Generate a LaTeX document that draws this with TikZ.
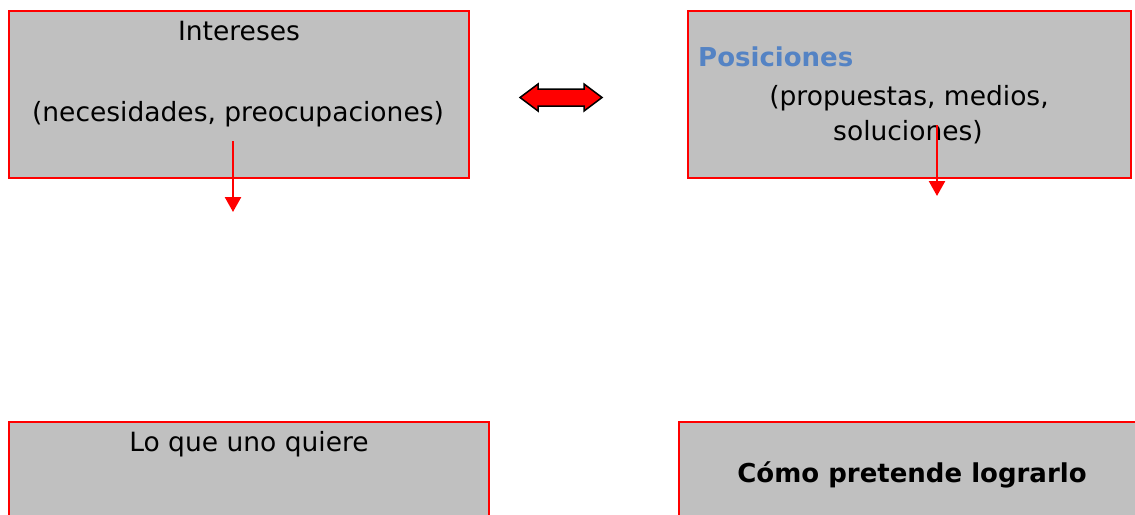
\documentclass[tikz,border=0pt]{standalone}
\usepackage{fontspec}
\setmainfont{DejaVu Sans}
\usetikzlibrary{arrows.meta}
\definecolor{gris}{RGB}{192,192,192}
\definecolor{azul}{RGB}{84,131,196}

\begin{document}
\begin{tikzpicture}
    [x=1pt,y=-1pt,every node/.style={font=\fontsize{26.5}{34}\selectfont},
     caja/.style={draw=red,fill=gris,line width=2pt,inner sep=0pt},
     flecha/.style={red,line width=2.5pt,-{Triangle[width=16pt,length=15pt]}}]
    \useasboundingbox (0,0) rectangle (1135,514);
    \clip (0,0) rectangle (1135,514);
    \node[caja,minimum width=460pt,minimum height=167pt] (interes) at (239,94.5) {};
    \node[caja,minimum width=443pt,minimum height=167pt] (posic) at (909.5,94.5) {};
    \node[caja,minimum width=480pt,minimum height=198pt] (quiere) at (249,521) {};
    \node[caja,minimum width=481pt,minimum height=198pt] (lograr) at (919.5,521) {};
    \node[anchor=base] (t1) at (239,40) {Intereses};
    \node[anchor=base] (t2) at (238,121) {(necesidades, preocupaciones)};
    \node[anchor=base west,inner sep=0pt,text=azul,font=\fontsize{26}{34}\selectfont\bfseries] (t3) at (698,66) {Posiciones};
    \node[anchor=base] (t4) at (909,105) {(propuestas, medios,};
    \node[anchor=base] (t5) at (908,140) {soluciones)};
    \node[anchor=base] (t6) at (249,451) {Lo que uno quiere};
    \node[anchor=base,font=\fontsize{26}{34}\selectfont\bfseries] (t7) at (912,482) {Cómo pretende lograrlo};
    % doble flecha entre los dos recuadros
    \draw[fill=red,line width=1.5pt,line join=miter] (520,97.5) -- (538,84) -- (538,89) -- (584,89)
        -- (584,84) -- (602,97.5) -- (584,111) -- (584,106) -- (538,106) -- (538,111) -- cycle;
    \coordinate (i1) at (233,141);
    \coordinate (i2) at (233,212);
    \coordinate (p1) at (937,125);
    \coordinate (p2) at (937,196);
    \draw[flecha] (i1) -- (i2);
    \draw[flecha] (p1) -- (p2);
\end{tikzpicture}
\end{document}
